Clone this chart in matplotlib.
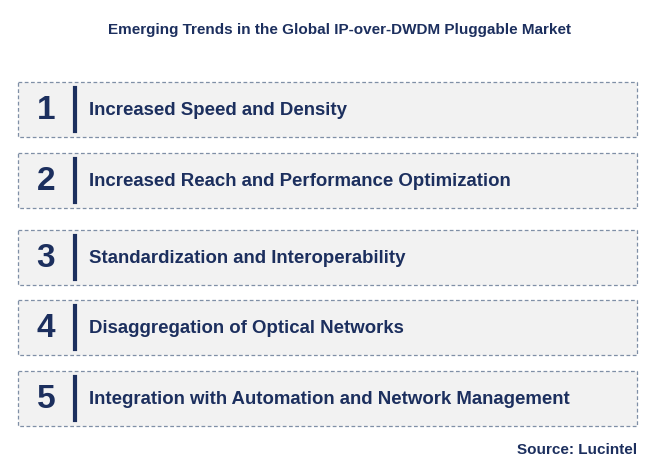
import matplotlib
matplotlib.use("Agg")
import matplotlib.pyplot as plt
from matplotlib.patches import Rectangle

title = "Emerging Trends in the Global IP-over-DWDM Pluggable Market"
numbers = ["1", "2", "3", "4", "5"]
trends = ["Increased Speed and Density",
          "Increased Reach and Performance Optimization",
          "Standardization and Interoperability",
          "Disaggregation of Optical Networks",
          "Integration with Automation and Network Management"]
source = "Source: Lucintel"

W, H = 659, 471
fig = plt.figure(figsize=(W/100, H/100), dpi=100)
ax = fig.add_axes([0, 0, 1, 1])
ax.set_xlim(0, W); ax.set_ylim(H, 0); ax.axis("off")
navy = "#1c2f5e"
tops = [82, 153, 230, 300, 371]
bh = 55
for n, t, y in zip(numbers, trends, tops):
    ax.add_patch(Rectangle((18, y), 619, bh, facecolor="#f2f2f2", edgecolor="#7f8fa6",
                           linestyle=(0, (3, 2)), linewidth=0.9))
    ax.text(46, y + bh/2 + 1, n, fontsize=24, fontweight="bold", color=navy,
            ha="center", va="center", family="Liberation Sans")
    ax.plot([75, 75], [y + 6, y + bh - 6], color=navy, linewidth=3)
    ax.text(89, y + bh/2 + 1, t, fontsize=13.4, fontweight="bold", color=navy,
            ha="left", va="center", family="Liberation Sans")
ax.text(340, 30, title, fontsize=11, fontweight="bold", color=navy, ha="center",
        va="center", family="Liberation Sans")
ax.text(637, 450, source, fontsize=11, fontweight="bold", color=navy, ha="right",
        va="center", family="Liberation Sans")
fig.savefig("out.png", dpi=100)
